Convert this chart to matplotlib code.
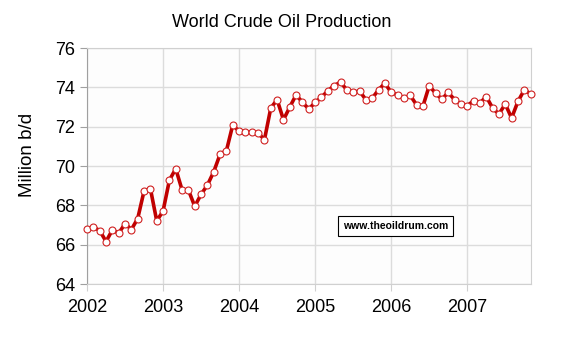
import matplotlib.pyplot as plt
import numpy as np

# monthly world crude production, Jan 2002 .. Nov 2007 (million b/d)
prod_2002 = [66.78, 66.89, 66.72, 66.16, 66.75, 66.58, 67.07, 66.77, 67.33, 68.73, 68.85, 67.21]
prod_2003 = [67.71, 69.28, 69.86, 68.78, 68.78, 67.95, 68.56, 69.03, 69.71, 70.60, 70.78, 72.09]
prod_2004 = [71.76, 71.75, 71.71, 71.68, 71.34, 72.95, 73.37, 72.35, 73.00, 73.62, 73.23, 72.90]
prod_2005 = [73.23, 73.50, 73.82, 74.09, 74.26, 73.87, 73.74, 73.82, 73.37, 73.45, 73.87, 74.21]
prod_2006 = [73.74, 73.62, 73.45, 73.59, 73.11, 73.03, 74.08, 73.70, 73.40, 73.74, 73.37, 73.15]
prod_2007 = [73.06, 73.32, 73.20, 73.53, 72.95, 72.64, 73.15, 72.44, 73.28, 73.87, 73.67]

years = [2002, 2003, 2004, 2005, 2006, 2007]
yticks = [64, 66, 68, 70, 72, 74, 76]

prod = prod_2002 + prod_2003 + prod_2004 + prod_2005 + prod_2006 + prod_2007
months = np.arange(len(prod))

plt.rcParams['font.family'] = ['Liberation Sans', 'DejaVu Sans']

fig = plt.figure(figsize=(5.64, 3.40), dpi=100)
ax = fig.add_axes([0.1543, 0.1647, 0.7865, 0.6941])
ax.set_facecolor('#fdfdfd')

ax.plot(months, prod, color='#c00000', linewidth=2.6, marker='o', markersize=5,
        markerfacecolor='white', markeredgecolor='#d02020', markeredgewidth=0.8,
        zorder=3, clip_on=False)

ax.set_xlim(0, len(prod) - 1)
ax.set_ylim(64, 76)
ax.set_xticks([12 * i for i in range(len(years))])
ax.set_xticklabels([str(y) for y in years])
ax.set_yticks(yticks)

ax.grid(True, color='#dcdcdc', linewidth=1)
ax.set_axisbelow(True)
for side in ['top', 'right', 'bottom']:
    ax.spines[side].set_color('#d0d0d0')
ax.spines['left'].set_color('#a0a0a0')
ax.tick_params(axis='both', labelsize=13, colors='#a0a0a0', labelcolor='black', length=5)
ax.tick_params(axis='x', colors='#d0d0d0', labelcolor='black', pad=6)

ax.set_ylabel('Million b/d', fontsize=13.5)
ax.yaxis.set_label_coords(-0.115, 0.546)
fig.suptitle('World Crude Oil Production', fontsize=13, y=0.96)

ax.text(0.577, 0.245, 'www.theoildrum.com', transform=ax.transAxes, fontsize=7.5,
        fontweight='bold', ha='left', va='center',
        bbox=dict(boxstyle='square,pad=0.45', facecolor='white', edgecolor='black', linewidth=0.8))

fig.savefig('out.png', dpi=100)
